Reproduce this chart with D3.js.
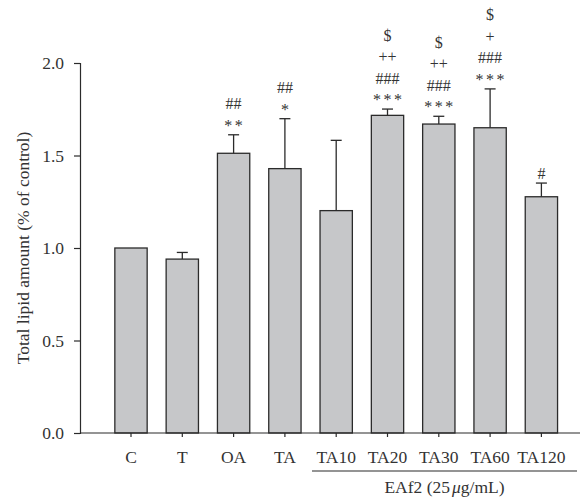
<!DOCTYPE html>
<html>
<head>
<meta charset="utf-8">
<script src="https://cdn.jsdelivr.net/npm/d3@7"></script>
<style>
  body { margin: 0; background: #fff; }
  svg text { font-family: "Liberation Serif", "Times New Roman", serif; fill: #333; }
</style>
</head>
<body>
<svg id="chart" width="582" height="499"></svg>
<script>
// Total lipid amount per treatment group (mean and error)
const categories = ["C", "T", "OA", "TA", "TA10", "TA20", "TA30", "TA60", "TA120"];
const means = [1.00, 0.94, 1.512, 1.429, 1.202, 1.717, 1.670, 1.650, 1.277];
const errors = [0.00, 0.036, 0.10, 0.27, 0.38, 0.034, 0.042, 0.21, 0.074];
// Significance marks, listed from the bar upward
const marks = [[], [], ["**", "##"], ["*", "##"], [], ["***", "###", "++", "$"], ["***", "###", "++", "$"], ["***", "###", "+", "$"], ["#"]];
const yTicks = [0.0, 0.5, 1.0, 1.5, 2.0];
const groupLabel = ["EAf2 (25", "μ", "g/mL)"];

const svg = d3.select("#chart");
const axisX0 = 80, axisX1 = 580, yTop = 63, yBottom = 433;
const fontSize = "17.5px";

const x = d3.scaleBand().domain(categories).range([105.35, 567.05])
  .paddingInner(0.37).paddingOuter(0.185);
const y = d3.scaleLinear().domain([0, 2]).range([yBottom, yTop]);

const ink = "#2b2b2b";

// Bars
svg.append("g").selectAll("rect").data(categories).join("rect")
  .attr("x", d => x(d))
  .attr("y", (d, i) => y(means[i]))
  .attr("width", x.bandwidth())
  .attr("height", (d, i) => y(0) - y(means[i]))
  .attr("fill", "#c6c7c9")
  .attr("stroke", ink)
  .attr("stroke-width", 1.3);

// Upper error bars
const eb = svg.append("g").attr("stroke", ink).attr("stroke-width", 1.3);
categories.forEach((c, i) => {
  if (errors[i] <= 0) return;
  const cx = x(c) + x.bandwidth() / 2;
  eb.append("line").attr("x1", cx).attr("x2", cx)
    .attr("y1", y(means[i])).attr("y2", y(means[i] + errors[i]));
  eb.append("line").attr("x1", cx - 5.5).attr("x2", cx + 5.5)
    .attr("y1", y(means[i] + errors[i])).attr("y2", y(means[i] + errors[i]));
});

// Significance symbols
const sig = svg.append("g").attr("text-anchor", "middle").style("font-size", "16px");
categories.forEach((c, i) => {
  const cx = x(c) + x.bandwidth() / 2;
  const base = y(means[i] + errors[i]) - 4;
  marks[i].forEach((m, k) => {
    sig.append("text")
      .attr("x", cx).attr("y", base - k * 21.5)
      .style("letter-spacing", m.startsWith("*") ? "2.5px" : "0px")
      .attr("dx", m.startsWith("*") ? "1.25px" : 0)
      .text(m);
  });
});

// Y axis
const yAxis = svg.append("g").attr("transform", `translate(${axisX0},0)`)
  .call(d3.axisLeft(y).tickValues(yTicks).tickFormat(d3.format(".1f")).tickSizeOuter(0).tickSize(6));
yAxis.select(".domain").attr("stroke", ink).attr("stroke-width", 1.2);
yAxis.selectAll(".tick line").attr("stroke", ink).attr("stroke-width", 1.2);
yAxis.selectAll(".tick text").attr("x", -16).style("font-size", fontSize)
  .style("font-family", "'Liberation Serif', serif").attr("fill", "#333");

// X axis
svg.append("line").attr("x1", axisX0).attr("x2", axisX1)
  .attr("y1", yBottom).attr("y2", yBottom)
  .attr("stroke", ink).attr("stroke-width", 1.2);
const xt = svg.append("g");
categories.forEach(c => {
  const cx = x(c) + x.bandwidth() / 2;
  xt.append("line").attr("x1", cx).attr("x2", cx).attr("y1", yBottom).attr("y2", yBottom + 4)
    .attr("stroke", ink).attr("stroke-width", 1.2);
  xt.append("text").attr("x", cx).attr("y", 463).attr("text-anchor", "middle")
    .style("font-size", fontSize).text(c);
});

// Group bracket under the EAf2-treated bars
const gx0 = 312, gx1 = 577;
svg.append("line").attr("x1", gx0).attr("x2", gx1).attr("y1", 471).attr("y2", 471)
  .attr("stroke", ink).attr("stroke-width", 1.2);
const gl = svg.append("text").attr("x", (gx0 + gx1) / 2).attr("y", 493)
  .attr("text-anchor", "middle").style("font-size", fontSize);
gl.append("tspan").text(groupLabel[0]);
gl.append("tspan").attr("dx", 2).style("font-style", "italic").text(groupLabel[1]);
gl.append("tspan").text(groupLabel[2]);

// Y axis title
svg.append("text")
  .attr("transform", `translate(23,${(yTop + yBottom) / 2}) rotate(-90)`)
  .attr("text-anchor", "middle").attr("dy", "0.35em")
  .style("font-size", fontSize)
  .text("Total lipid amount (% of control)");
</script>
</body>
</html>
